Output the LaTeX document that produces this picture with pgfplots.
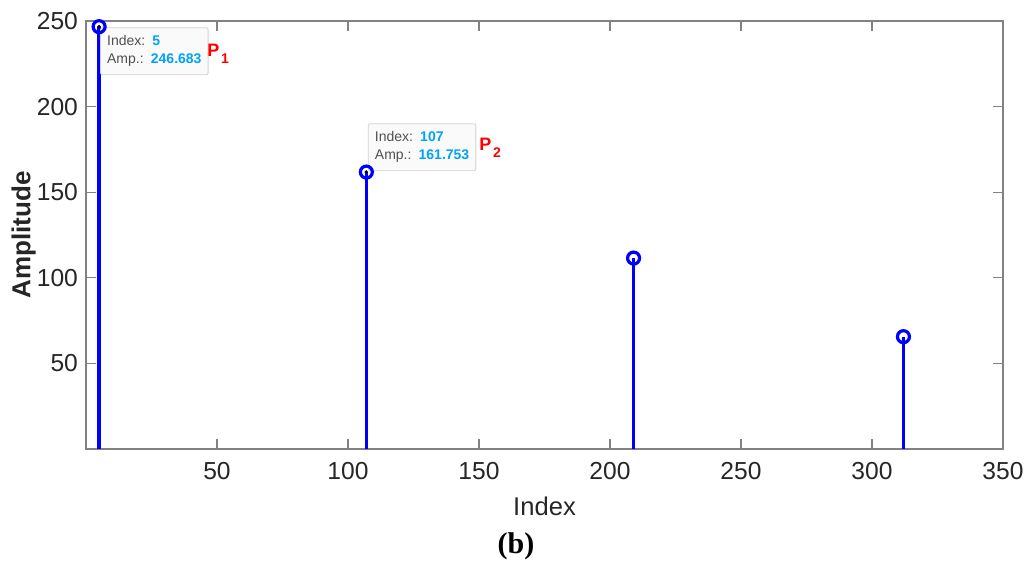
\documentclass[border=0pt]{standalone}
\usepackage{fontspec}
\setmainfont{Liberation Sans}
\newfontfamily\capfont{Liberation Serif}
\usepackage{pgfplots}
\pgfplotsset{compat=1.18}
\definecolor{stemblue}{RGB}{0,0,255}
\definecolor{tipblue}{RGB}{0,162,250}
\definecolor{axgray}{RGB}{130,130,130}
\definecolor{ticktext}{RGB}{38,38,38}
\definecolor{tiptext}{RGB}{80,80,80}
\begin{document}
\begin{tikzpicture}[x=1pt,y=1pt]
\useasboundingbox (0,0) rectangle (516.5,283);
\begin{axis}[
  at={(43pt,58.5pt)}, anchor=south west,
  scale only axis, width=458.5pt, height=214pt,
  xmin=0, xmax=350, ymin=0, ymax=250,
  xtick={50,100,...,350}, ytick={50,100,...,250},
  tick align=inside, major tick length=5pt,
  axis line style={axgray, line width=0.6pt},
  tick style={axgray, line width=0.6pt},
  ticklabel style={font=\fontsize{12.3}{14}\selectfont, text=ticktext},
  xticklabel style={yshift=-3pt},
  yticklabel style={xshift=-0.5pt},
  /pgf/number format/assume math mode=true,
  xlabel={Index}, ylabel={\bfseries Amplitude},
  label style={text=ticktext},
  xlabel style={font=\fontsize{12.8}{14}\selectfont, at={(axis description cs:0.5,-0.133)}, anchor=center},
  ylabel style={font=\fontsize{13}{14}\selectfont, at={(axis description cs:-0.068,0.5)}, anchor=center},
  clip=false,
]
\addplot[ycomb, stemblue, line width=1.6pt, mark=o, mark size=3pt,
  mark options={line width=1.6pt}]
  coordinates {(5,246.683) (107,161.753) (209,111.5) (312,65.6)};
\addplot[only marks, mark=*, mark size=0.7pt, black]
  coordinates {(5,246.683) (107,161.753)};
\node[draw=gray!35, fill=gray!4, rounded corners=1pt, anchor=north west,
  align=left, inner xsep=3.3pt, inner ysep=4pt, minimum width=53pt,
  font=\fontsize{7}{9}\selectfont, text=tiptext]
  at (axis cs:5.4,246.3) {Index:\hspace{1pt} \textcolor{tipblue}{\bfseries 5}\\Amp.:\hspace{1pt} \textcolor{tipblue}{\bfseries 246.683}};
\node[draw=gray!35, fill=gray!4, rounded corners=1pt, anchor=south west,
  align=left, inner xsep=3.3pt, inner ysep=4pt, minimum width=53pt,
  font=\fontsize{7}{9}\selectfont, text=tiptext]
  at (axis cs:107.6,162.3) {Index:\hspace{1pt} \textcolor{tipblue}{\bfseries 107}\\Amp.:\hspace{1pt} \textcolor{tipblue}{\bfseries 161.753}};
\node[anchor=base west, inner sep=0pt, text=red, font=\fontsize{9}{10}\selectfont\bfseries]
  at (axis cs:46.2,229.5) {P\hspace{0.8pt}\raisebox{-3.5pt}{\fontsize{7}{8}\selectfont 1}};
\node[anchor=base west, inner sep=0pt, text=red, font=\fontsize{9}{10}\selectfont\bfseries]
  at (axis cs:150.0,174.6) {P\hspace{0.8pt}\raisebox{-3.5pt}{\fontsize{7}{8}\selectfont 2}};
\end{axis}
\node[anchor=center, font=\capfont\fontsize{15}{16}\selectfont\bfseries] at (258,10) {(b)};
\end{tikzpicture}
\end{document}
